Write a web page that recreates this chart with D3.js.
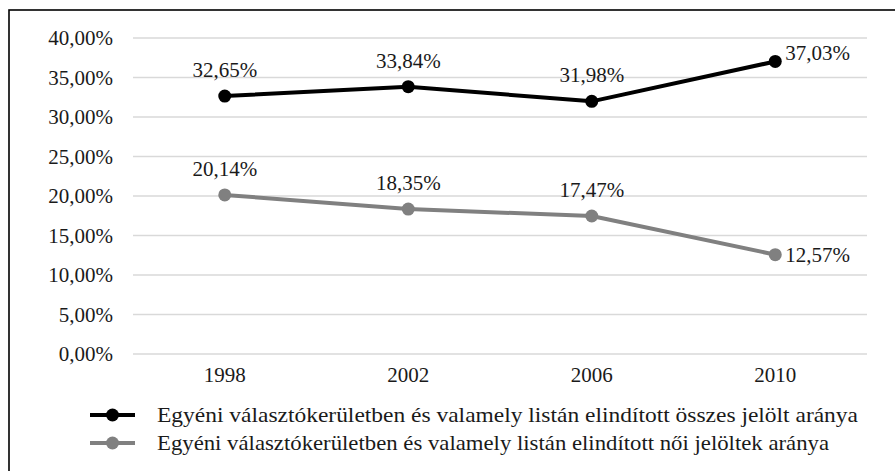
<!DOCTYPE html>
<html><head><meta charset="utf-8">
<script src="https://cdn.jsdelivr.net/npm/d3@7/dist/d3.min.js"></script>
<style>
html,body{margin:0;padding:0;background:#fff;overflow:hidden}
</style></head><body>
<svg id="c" width="895" height="471"></svg>
<script>
const years = ["1998","2002","2006","2010"];
const seriesNames = [
  "Egyéni választókerületben és valamely listán elindított összes jelölt aránya",
  "Egyéni választókerületben és valamely listán elindított női jelöltek aránya"
];
const totalShare = [32.65, 33.84, 31.98, 37.03];
const womenShare = [20.14, 18.35, 17.47, 12.57];
const yTicks = [0,5,10,15,20,25,30,35,40];
const seriesColors = ["#000000","#808080"];
const labelPos = [["above","above","above","right"],["above","above","above","right"]];

const FONT = "'Liberation Serif', 'DejaVu Serif', serif";
const svg = d3.select("#c");
const fs = 21;
const fmt = v => d3.format(".2f")(v).replace(".", ",") + "%";

svg.append("rect").attr("x",9).attr("y",10).attr("width",900).attr("height",470)
  .attr("fill","#fff").attr("stroke","#000").attr("stroke-width",1.6);

const x = d3.scaleBand().domain(years).range([133,867]);
const y = d3.scaleLinear().domain([0,40]).range([354,38]);

svg.append("g").selectAll("line").data(yTicks).join("line")
  .attr("x1",133).attr("x2",867).attr("y1",d=>y(d)).attr("y2",d=>y(d))
  .attr("stroke","#d9d9d9").attr("stroke-width",1.5);

const ya = svg.append("g").attr("transform","translate(133,0)")
  .call(d3.axisLeft(y).tickValues(yTicks).tickSize(0).tickPadding(20).tickFormat(d=>fmt(d)));
ya.select(".domain").remove();
ya.attr("font-family",null).attr("font-size",null);

const xa = svg.append("g").attr("transform","translate(0,354)")
  .call(d3.axisBottom(x).tickSize(0).tickPadding(13));
xa.select(".domain").remove();
xa.attr("font-family",null).attr("font-size",null);
xa.selectAll("text").attr("dy","0.71em");

const data = [totalShare, womenShare];
const line = d3.line().x((d,i)=>x(years[i])+x.bandwidth()/2).y(d=>y(d));

data.forEach((vals,si)=>{
  const g = svg.append("g");
  g.append("path").datum(vals).attr("d",line).attr("fill","none")
    .attr("stroke",seriesColors[si]).attr("stroke-width",4).attr("stroke-linejoin","round");
  g.selectAll("circle").data(vals).join("circle")
    .attr("cx",(d,i)=>x(years[i])+x.bandwidth()/2).attr("cy",d=>y(d)).attr("r",6.5)
    .attr("fill",seriesColors[si]);
  g.selectAll("text").data(vals).join("text")
    .attr("x",(d,i)=>x(years[i])+x.bandwidth()/2 + (labelPos[si][i]==="right"?10:0))
    .attr("y",(d,i)=>y(d) + (labelPos[si][i]==="right"?(si===0?-8:0):-26))
    .attr("dy","0.33em")
    .attr("text-anchor",(d,i)=>labelPos[si][i]==="right"?"start":"middle")
    .text(d=>fmt(d));
});

const legY = [415,443];
seriesNames.forEach((name,i)=>{
  const g = svg.append("g");
  g.append("line").attr("x1",90).attr("x2",135).attr("y1",legY[i]).attr("y2",legY[i])
    .attr("stroke",seriesColors[i]).attr("stroke-width",4);
  g.append("circle").attr("cx",112.5).attr("cy",legY[i]).attr("r",6.5).attr("fill",seriesColors[i]);
  g.append("text").attr("class","leg").attr("x",157).attr("y",legY[i]).attr("dy","0.33em").text(name);
});

svg.selectAll("text")
  .style("font-family",FONT).style("font-size",fs+"px").style("fill","#1a1a1a");
svg.selectAll("text.leg").each(function(){
  const target = this.textContent.includes("összes") ? 701 : 672;
  d3.select(this).attr("textLength",target).attr("lengthAdjust","spacingAndGlyphs");
});
</script></body></html>
